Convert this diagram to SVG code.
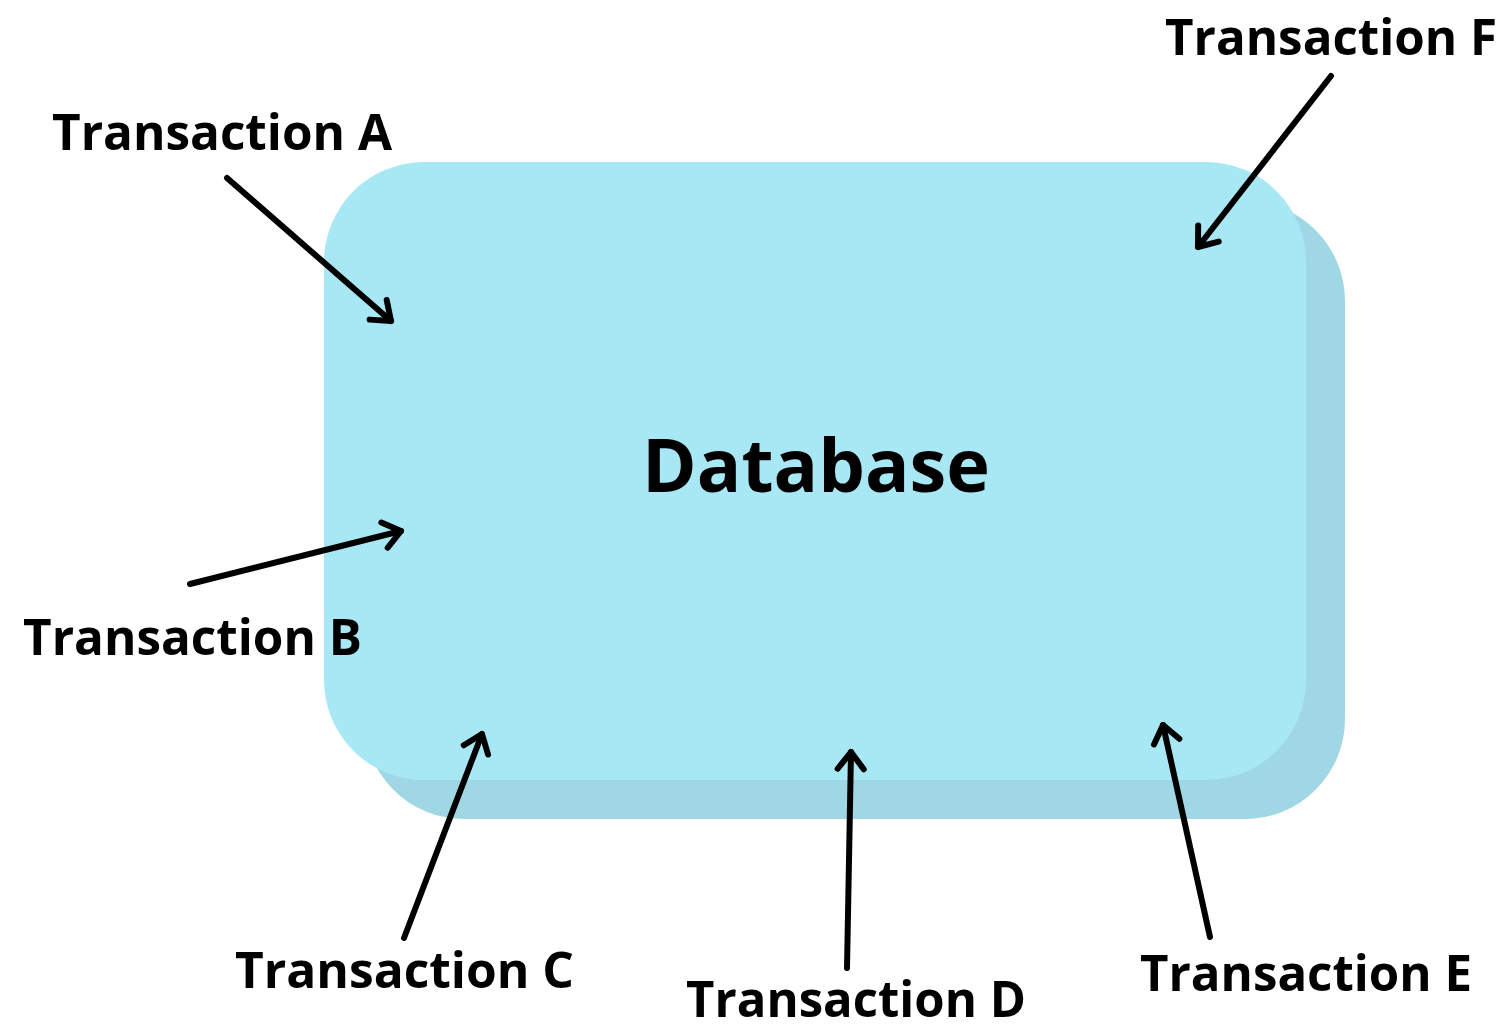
<svg xmlns="http://www.w3.org/2000/svg" width="1507" height="1024" viewBox="0 0 1507 1024">
  <defs>
    <style>
      .label { font-family: "Open Sans", "Noto Sans", "Liberation Sans", sans-serif; font-weight: 700; fill: #000; }
      .tx { font-size: 50px; }
      .title { font-size: 74px; }
      .edge { stroke: #000; stroke-width: 6; stroke-linecap: round; fill: none; }
    </style>
    <marker id="head" markerUnits="userSpaceOnUse" markerWidth="40" markerHeight="40" viewBox="-30 -20 40 40" refX="0" refY="0" orient="auto">
      <path d="M -17 -13 L 0 0 L -17 13" fill="none" stroke="#000" stroke-width="6" stroke-linecap="round" stroke-linejoin="round"/>
    </marker>
  </defs>
  <rect width="1507" height="1024" fill="#fff"/>

  <!-- database block: back face then front face -->
  <g id="database">
    <rect x="364" y="201" width="981" height="618" rx="100" ry="100" fill="#9fd8e4"/>
    <rect x="324" y="162" width="982" height="618" rx="100" ry="100" fill="#a8e8f4"/>
    <text class="label title" x="816" y="492" text-anchor="middle" textLength="348" lengthAdjust="spacingAndGlyphs">Database</text>
  </g>

  <!-- transaction labels -->
  <g id="tx-a"><text class="label tx" x="52" y="150" textLength="340" lengthAdjust="spacingAndGlyphs">Transaction A</text></g>
  <g id="tx-b"><text class="label tx" x="23" y="655" textLength="339" lengthAdjust="spacingAndGlyphs">Transaction B</text></g>
  <g id="tx-c"><text class="label tx" x="235" y="988" textLength="339" lengthAdjust="spacingAndGlyphs">Transaction C</text></g>
  <g id="tx-d"><text class="label tx" x="686" y="1017" textLength="340" lengthAdjust="spacingAndGlyphs">Transaction D</text></g>
  <g id="tx-e"><text class="label tx" x="1140" y="991" textLength="332" lengthAdjust="spacingAndGlyphs">Transaction E</text></g>
  <g id="tx-f"><text class="label tx" x="1165" y="55" textLength="332" lengthAdjust="spacingAndGlyphs">Transaction F</text></g>

  <!-- connectors -->
  <g id="connectors">
    <line class="edge" x1="227" y1="178" x2="391" y2="321" marker-end="url(#head)"/>
    <line class="edge" x1="1331" y1="76" x2="1198" y2="247" marker-end="url(#head)"/>
    <line class="edge" x1="190" y1="584" x2="401" y2="531" marker-end="url(#head)"/>
    <line class="edge" x1="404" y1="938" x2="482" y2="734" marker-end="url(#head)"/>
    <line class="edge" x1="847" y1="968" x2="851" y2="752" marker-end="url(#head)"/>
    <line class="edge" x1="1210" y1="937" x2="1163" y2="725" marker-end="url(#head)"/>
  </g>
</svg>
